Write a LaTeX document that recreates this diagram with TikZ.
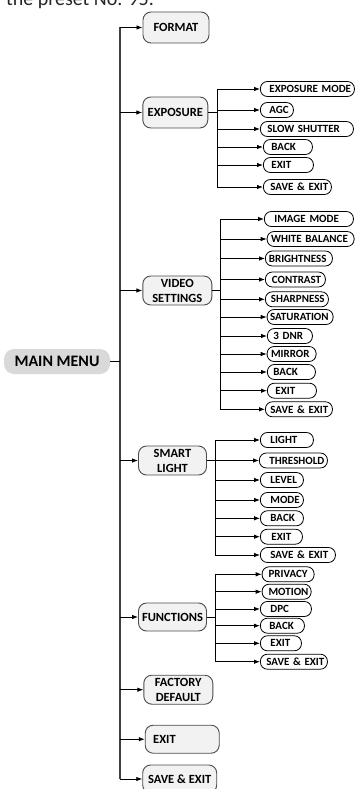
\documentclass[tikz,border=0pt]{standalone}
\usepackage{fontspec}
\setmainfont{Carlito}
\usetikzlibrary{arrows.meta}

\newcommand\rootfont{\bfseries\fontsize{16}{18}\selectfont}
\newcommand\menufont{\bfseries\fontsize{12.5}{15}\selectfont}
\newcommand\leaffont{\bfseries\fontsize{11}{12}\selectfont}

\tikzset{
  menu/.style={draw=black!70,fill=black!5,line width=0.9pt,rounded corners=8pt,font=\menufont,align=center,inner sep=1pt},
  leafbox/.style={draw=black,fill=white,line width=0.8pt,rounded corners=7pt,font=\leaffont,anchor=west,align=left,inner ysep=0pt,minimum height=15pt},
  leaf/.style 2 args={leafbox,inner xsep=#1,text width=#2},
  spine/.style={line width=0.8pt},
  branch/.style={line width=0.8pt,-{Latex[length=6pt,width=4.5pt]}},
}

\begin{document}
\begin{tikzpicture}[x=1pt,y=-1pt]
\useasboundingbox (0,0) rectangle (355,789);
\clip (0,0) rectangle (355,789);

\node[font=\fontsize{20}{24}\selectfont,text=black!85,anchor=base west,inner sep=0pt] (preset) at (6,6) {the preset No. 95.};

\node[fill=black!15,rounded corners=10pt,minimum width=106pt,minimum height=25pt,font=\rootfont] (root) at (57,361.5) {MAIN MENU};
\coordinate (trunk) at (120,0);

\node[menu,minimum width=66pt,minimum height=31pt] (format) at (176,27.5) {FORMAT};
\node[menu,minimum width=65pt,minimum height=31pt] (exposure) at (175.3,112.5) {EXPOSURE};
\node[menu,minimum width=69pt,minimum height=29pt] (video) at (177.3,290.5) {VIDEO\\SETTINGS};
\node[menu,minimum width=68pt,minimum height=29pt] (smart) at (172.5,460.5) {SMART\\LIGHT};
\node[menu,minimum width=68pt,minimum height=28pt] (functions) at (172.5,617) {FUNCTIONS};
\node[menu,minimum width=69pt,minimum height=29pt] (factory) at (178.3,689.7) {FACTORY\\DEFAULT};
\node[menu,minimum width=74pt,minimum height=28pt,align=left,text width=58pt] (mexit) at (182.2,739.2) {EXIT};
\node[menu,minimum width=74pt,minimum height=28pt] (msave) at (179.7,779) {SAVE \& EXIT};

\draw[spine,black!75,line width=1.1pt] (format.west -| trunk) -- (msave.west -| trunk);
\draw[spine] (root.east) -- (root.east -| trunk);
\foreach \n in {format,exposure,video,smart,functions,factory,mexit,msave}
  \draw[branch] (\n.west -| trunk) -- (\n.west);

\coordinate (espine) at (217,0);
\node[leaf={9pt}{76pt}] (emode) at (260,89) {EXPOSURE~MODE};
\node[leaf={9pt}{15pt}] (eagc) at (260,110) {AGC};
\node[leaf={7pt}{79pt}] (eslow) at (260,129) {SLOW~SHUTTER};
\node[leaf={8pt}{33pt}] (eback) at (263,147) {BACK};
\node[leaf={8pt}{34pt}] (eexit) at (263,165) {EXIT};
\node[leaf={7pt}{54pt}] (esave) at (263,187) {SAVE~\&~EXIT};
\draw[spine] (exposure.east) -- (exposure.east -| espine);
\draw[spine] (emode.west -| espine) -- (esave.west -| espine);
\foreach \n in {emode,eagc,eslow,eback,eexit,esave}
  \draw[branch] (\n.west -| espine) -- (\n.west);

\coordinate (vspine) at (220,0);
\node[leaf={10pt}{69pt}] (vimage) at (264,219) {IMAGE~MODE};
\node[leaf={4pt}{79pt}] (vwhite) at (266.7,239) {WHITE~BALANCE};
\node[leaf={3.5pt}{60pt}] (vbright) at (265,258.5) {BRIGHTNESS};
\node[leaf={6.5pt}{47pt}] (vcontrast) at (265,279.5) {CONTRAST};
\node[leaf={5.5pt}{52pt}] (vsharp) at (265,299.3) {SHARPNESS};
\node[leaf={3pt}{60pt}] (vsat) at (266.7,317) {SATURATION};
\node[leaf={6pt}{33pt}] (vdnr) at (267,336) {3~DNR};
\node[leaf={4pt}{41pt}] (vmirror) at (266.7,354) {MIRROR};
\node[leaf={6pt}{36pt}] (vback) at (267,372) {BACK};
\node[leaf={8pt}{33pt}] (vexit) at (267,390.7) {EXIT};
\node[leaf={5pt}{57pt}] (vsave) at (265,409.3) {SAVE~\&~EXIT};
\draw[spine] (video.east) -- (video.east -| vspine);
\draw[spine] (vimage.west -| vspine) -- (vsave.west -| vspine);
\foreach \n in {vimage,vwhite,vbright,vcontrast,vsharp,vsat,vdnr,vmirror,vback,vexit,vsave}
  \draw[branch] (\n.west -| vspine) -- (\n.west);

\coordinate (sspine) at (215,0);
\node[leaf={10pt}{33pt}] (slight) at (260,440) {LIGHT};
\node[leaf={10pt}{48pt}] (sthresh) at (259,460.5) {THRESHOLD};
\node[leaf={10pt}{23pt}] (slevel) at (260,480) {LEVEL};
\node[leaf={10pt}{23pt}] (smode) at (260,500) {MODE};
\node[leaf={10pt}{23pt}] (sback) at (260,518.3) {BACK};
\node[leaf={11pt}{20pt}] (sexit) at (260,536.7) {EXIT};
\node[leaf={10pt}{55pt}] (ssave) at (260,555) {SAVE~\&~EXIT};
\draw[spine] (smart.east) -- (smart.east -| sspine);
\draw[spine] (slight.west -| sspine) -- (ssave.west -| sspine);
\foreach \n in {slight,sthresh,slevel,smode,sback,sexit,ssave}
  \draw[branch] (\n.west -| sspine) -- (\n.west);

\coordinate (fspine) at (215.5,0);
\node[leaf={6.5pt}{39pt}] (fpriv) at (261.7,574.3) {PRIVACY};
\node[leaf={6.5pt}{36pt}] (fmotion) at (261.7,591.7) {MOTION};
\node[leaf={10pt}{31pt}] (fdpc) at (260,609) {DPC};
\node[leaf={9pt}{26pt}] (fback) at (260,625.7) {BACK};
\node[leaf={10pt}{21pt}] (fexit) at (260,643.3) {EXIT};
\node[leaf={6pt}{55pt}] (fsave) at (260,661.7) {SAVE~\&~EXIT};
\draw[spine] (functions.east) -- (functions.east -| fspine);
\draw[spine] (fpriv.west -| fspine) -- (fsave.west -| fspine);
\foreach \n in {fpriv,fmotion,fdpc,fback,fexit,fsave}
  \draw[branch] (\n.west -| fspine) -- (\n.west);

\end{tikzpicture}
\end{document}
